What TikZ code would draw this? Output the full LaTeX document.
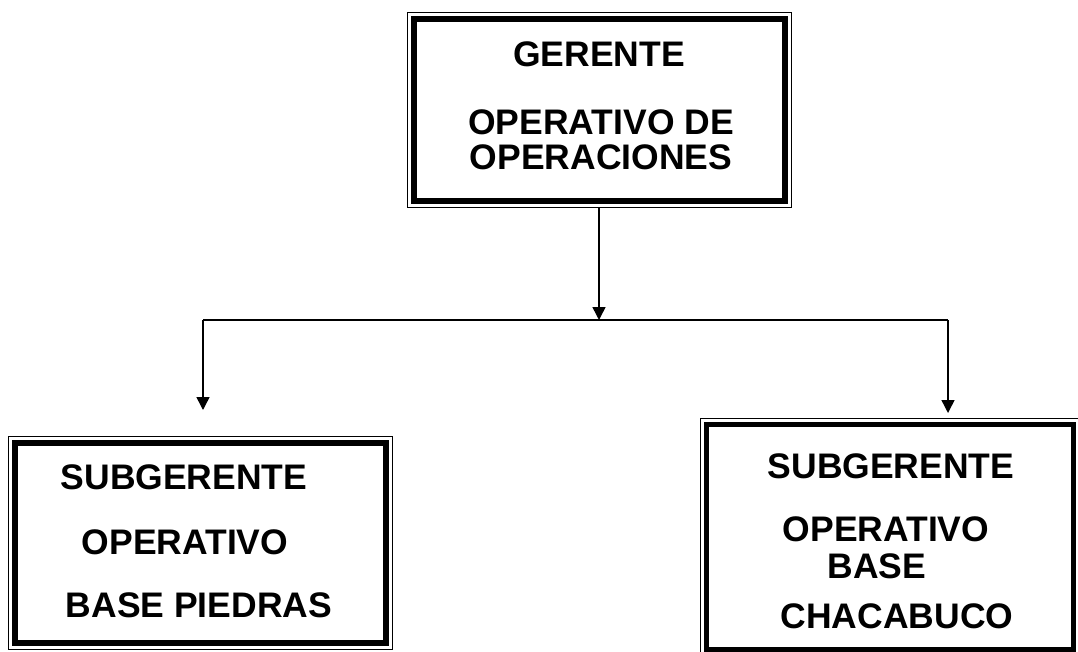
\documentclass[tikz,border=0pt]{standalone}
\usepackage{fontspec}
\setmainfont{Liberation Sans}
\usetikzlibrary{arrows.meta}
\begin{document}
\begin{tikzpicture}[x=1pt,y=-1pt,
  orgbox/.style={draw,line width=1pt,inner sep=0pt,outer sep=0pt},
  thickrule/.style={line width=5.5pt},
  lbl/.style={inner sep=0pt,outer sep=0pt,font=\fontsize{35.5}{40}\selectfont\bfseries},
  conn/.style={line width=1.5pt,-{Triangle[length=13pt,width=13pt]}},
  plain/.style={line width=1.5pt}]
\useasboundingbox (0,0) rectangle (1078,652);
% boxes
\node[orgbox,minimum width=384pt,minimum height=195pt] (top) at (599.5,110) {};
\draw[thickrule] ([shift={(6.5pt,-6.5pt)}]top.north west) rectangle ([shift={(-6.5pt,6.5pt)}]top.south east);
\node[orgbox,minimum width=384pt,minimum height=213pt] (left) at (200.5,543) {};
\draw[thickrule] ([shift={(6.5pt,-6.5pt)}]left.north west) rectangle ([shift={(-6.5pt,6.5pt)}]left.south east);
\node[orgbox,minimum width=380pt,minimum height=238pt] (right) at (890,537) {};
\draw[thickrule] ([shift={(6.5pt,-6.5pt)}]right.north west) rectangle ([shift={(-6.5pt,6.5pt)}]right.south east);
% texts
\node[lbl] (t1) at (599,54) {GERENTE};
\node[lbl] (t2) at (601,122) {OPERATIVO DE};
\node[lbl] (t3) at (601,157) {OPERACIONES};
\node[lbl] (t4) at (184,477) {SUBGERENTE};
\node[lbl] (t5) at (185,542) {OPERATIVO};
\node[lbl] (t6) at (199,605) {BASE PIEDRAS};
\node[lbl] (t7) at (891,466) {SUBGERENTE};
\node[lbl] (t8) at (886,529) {OPERATIVO};
\node[lbl] (t9) at (877,566) {BASE};
\node[lbl] (t10) at (897,616) {CHACABUCO};
% connectors
\coordinate (j) at (599,320);
\coordinate (jl) at (203,320);
\coordinate (jr) at (948,320);
\coordinate (al) at (203,410);
\coordinate (ar) at (948,413);
\draw[conn] (top.south -| j) -- (j);
\draw[plain] (jl) -- (jr);
\draw[conn] (jl) -- (al);
\draw[conn] (jr) -- (ar);
\end{tikzpicture}
\end{document}
